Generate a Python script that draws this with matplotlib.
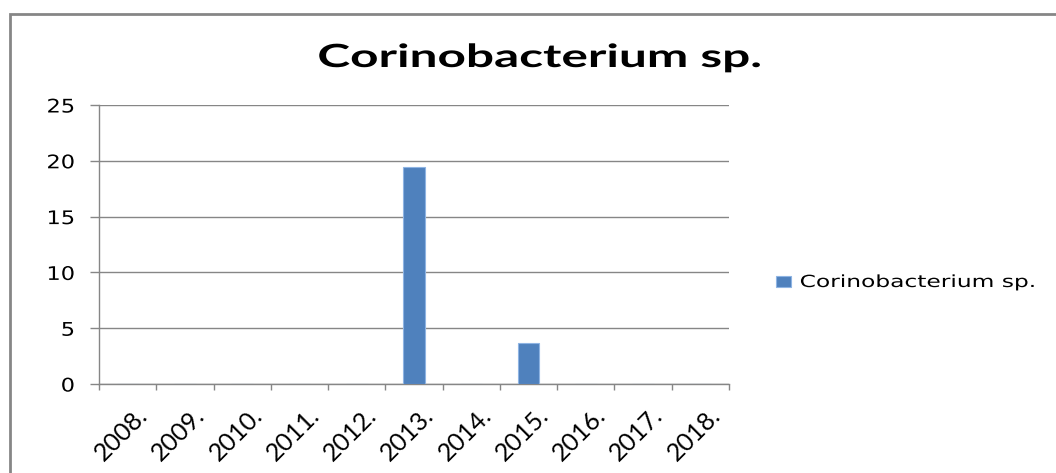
import matplotlib.pyplot as plt
from matplotlib.patches import Rectangle
from matplotlib.patheffects import AbstractPathEffect
from matplotlib.path import Path
from matplotlib.transforms import Affine2D, ScaledTranslation
import numpy as np

# --- data ---
years = ['2008.', '2009.', '2010.', '2011.', '2012.', '2013.',
         '2014.', '2015.', '2016.', '2017.', '2018.']
values = [0, 0, 0, 0, 0, 19.4, 0, 3.7, 0, 0, 0]
series_name = 'Corinobacterium sp.'

bar_color = '#4F81BD'
grid_color = '#868686'


class StretchX(AbstractPathEffect):
    """Widen a text horizontally around its left/centre/right edge."""

    def __init__(self, sx, anchor='center'):
        super().__init__()
        self._sx = sx
        self._anchor = anchor

    def draw_path(self, renderer, gc, tpath, affine, rgbFace=None):
        pts = affine.transform(tpath.vertices)
        if tpath.codes is not None:
            pts = pts[tpath.codes != Path.CLOSEPOLY]
        if len(pts) == 0:
            renderer.draw_path(gc, tpath, affine, rgbFace)
            return
        xs = pts[:, 0]
        if self._anchor == 'left':
            x0 = xs.min()
        elif self._anchor == 'right':
            x0 = xs.max()
        else:
            x0 = (xs.min() + xs.max()) / 2
        wide = Affine2D().translate(-x0, 0).scale(self._sx, 1).translate(x0, 0)
        renderer.draw_path(gc, tpath, affine + wide, rgbFace)


W, H = 1056, 473
fig = plt.figure(figsize=(W / 100, H / 100), dpi=100)
ax = fig.add_axes([99 / W, (H - 384) / H, 630 / W, 279 / H])

x = np.arange(len(years))
ax.bar(x, values, width=0.38, color=bar_color,
       edgecolor='#8EB4E3', linewidth=0.8, label=series_name, zorder=3)

ax.set_xlim(-0.5, len(years) - 0.5)
ax.set_ylim(0, 25)
ax.set_yticks(range(0, 26, 5))
ax.grid(axis='y', color=grid_color, linewidth=1.0, zorder=0)

# category ticks sit between the bars
ax.set_xticks(np.arange(-0.5, len(years), 1.0))
ax.set_xticklabels([])
ax.tick_params(axis='x', length=4.3, color=grid_color, width=1)
ax.tick_params(axis='y', length=6.5, color=grid_color, width=1,
               labelsize=13.5, pad=11)

for side in ['top', 'right']:
    ax.spines[side].set_visible(False)
for side in ['left', 'bottom']:
    ax.spines[side].set_color(grid_color)
    ax.spines[side].set_linewidth(1)

for lab in ax.get_yticklabels():
    lab.set_path_effects([StretchX(1.2, 'right')])

# year labels under each category, slanted
lab_tr = ax.get_xaxis_transform() + ScaledTranslation(0.08, -0.19, fig.dpi_scale_trans)
for i, yr in enumerate(years):
    ax.text(i, 0, yr, transform=lab_tr, rotation=45, rotation_mode='anchor',
            ha='right', va='top', fontsize=18, family='Lato')

fig.text(540 / W, 1 - 67 / H, series_name, ha='center', va='baseline',
         fontsize=23, fontweight='bold', family='Lato',
         path_effects=[StretchX(1.55, 'center')])

leg = ax.legend(loc='center left', bbox_to_anchor=(776 / W, 1 - 282 / H),
                bbox_transform=fig.transFigure, frameon=False, fontsize=12,
                borderpad=0, borderaxespad=0,
                handlelength=0.9, handleheight=0.66, handletextpad=0.54)
for t in leg.get_texts():
    t.set_path_effects([StretchX(1.4, 'left')])

# outer chart frame
fig.patches.append(Rectangle((10 / W, -0.1), 1.2, 1 - 14 / H + 0.1,
                             transform=fig.transFigure, fill=False,
                             edgecolor=grid_color, linewidth=2))

fig.savefig('out.png', dpi=100)
